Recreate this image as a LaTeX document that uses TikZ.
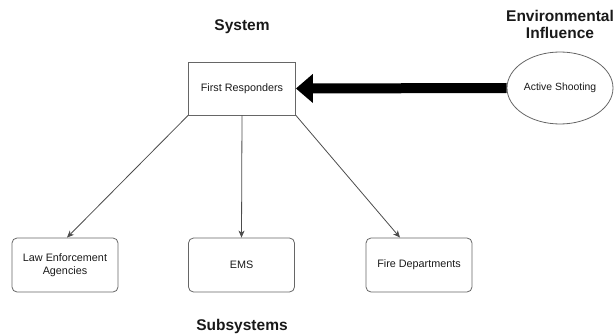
\documentclass[tikz,border=0pt]{standalone}
\usepackage{fontspec}
\setmainfont{Liberation Sans}
\usepackage{tikz}
\usetikzlibrary{positioning,arrows.meta,shapes.geometric}

\begin{document}
\begin{tikzpicture}[
  x=1pt, y=-1pt,
  lbl/.style={font=\fontsize{10.8}{12.5}\selectfont, text=black!90, align=center},
  sysbox/.style={lbl, draw=black!60, line width=0.8pt, minimum width=107pt, minimum height=53pt, inner sep=0pt},
  subbox/.style={sysbox, rounded corners=5pt, minimum width=106pt, minimum height=54pt},
  envnode/.style={lbl, draw=black!60, line width=0.8pt, ellipse, minimum width=106pt, minimum height=72pt, inner sep=0pt, font=\fontsize{10.4}{12}\selectfont},
  head/.style={font=\fontsize{15.5}{17}\selectfont\bfseries, text=black!90, align=center},
  arr/.style={-{Stealth[length=7pt, width=6pt, inset=2pt]}, black!70, line width=0.8pt},
  bigarr/.style={-{Triangle[length=17pt, width=28pt]}, black, line width=10pt}
]
\useasboundingbox (0,0) rectangle (615,334);
\node[sysbox] (resp) at (242,88.5) {First Responders};
\node[envnode] (shoot) at (560,88) {Active Shooting};
\node[subbox] (law) at (65,265) {Law Enforcement\\Agencies};
\node[subbox] (ems) at (241.5,265) {EMS};
\node[subbox] (fire) at (419,265) {Fire Departments};
\node[head] (sys) at (242,27) {System};
\node[head] (env) at (560,24) {Environmental\\Influence};
\node[head, anchor=base] (subs) at (242,330) {Subsystems};
\draw[bigarr] (shoot.west) -- (resp.east);
\foreach \a/\b/\s in {south west/law/2, south/ems/0, south east/fire/-19}
  \draw[arr] (resp.\a) -- ([xshift=\s pt]\b.north);
\end{tikzpicture}
\end{document}
